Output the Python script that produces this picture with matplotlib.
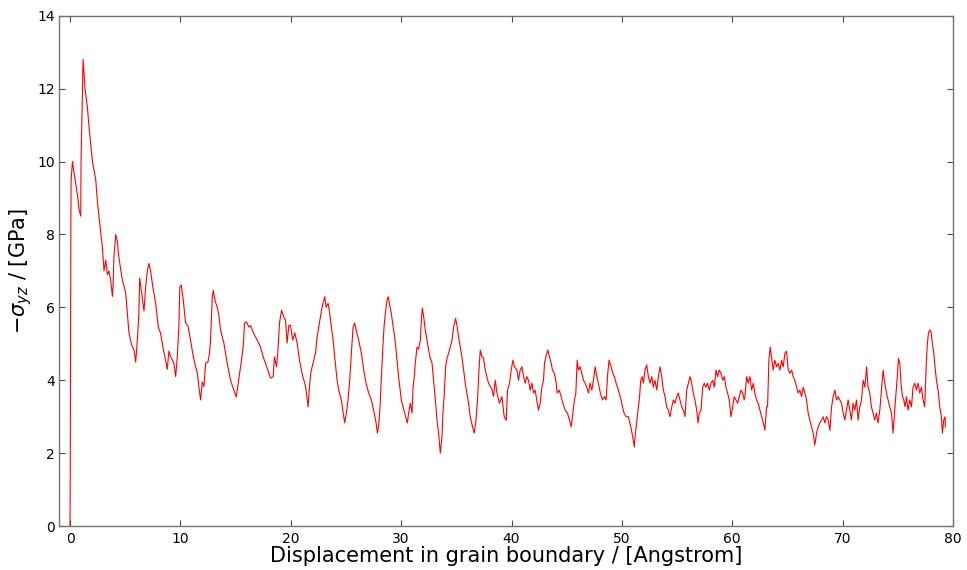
import matplotlib
matplotlib.use("Agg")
import matplotlib.pyplot as plt
import numpy as np

# displacement [Angstrom] and -sigma_yz [GPa]
disp = [
    0.0, 0.02, 0.04, 0.06, 0.08, 0.1, 0.22, 0.36, 0.52, 0.67, 0.81, 0.97, 1.0, 1.1, 1.18,
    1.36, 1.57, 1.72, 2.03, 2.33, 2.48, 2.62, 2.93, 3.08, 3.23, 3.38, 3.53, 3.68, 3.84,
    3.9, 3.98, 4.14, 4.29, 4.41, 4.74, 5.04, 5.19, 5.34, 5.58, 5.79, 5.95, 6.1, 6.24,
    6.31, 6.49, 6.7, 6.85, 7.0, 7.15, 7.3, 7.46, 7.76, 8.0, 8.2, 8.42, 8.66, 8.81, 8.96,
    9.11, 9.41, 9.57, 9.72, 9.86, 9.95, 10.08, 10.26, 10.47, 10.68, 10.92, 11.17, 11.38,
    11.53, 11.67, 11.83, 11.98, 12.13, 12.28, 12.49, 12.64, 12.73, 12.89, 12.98, 13.12,
    13.34, 13.48, 13.64, 13.94, 14.24, 14.54, 14.84, 15.06, 15.24, 15.45, 15.69, 15.81,
    15.99, 16.2, 16.35, 16.65, 16.96, 17.26, 17.5, 17.71, 17.92, 18.16, 18.41, 18.52,
    18.71, 18.82, 18.98, 19.16, 19.37,
    19.52, 19.67, 19.82, 19.97, 20.18, 20.36, 20.58, 20.79, 20.97, 21.09, 21.27, 21.39,
    21.57, 21.69, 21.81, 21.94, 22.08, 22.24, 22.39, 22.53, 22.69, 22.84, 22.99, 23.08,
    23.2, 23.38, 23.53, 23.68, 23.84, 23.98, 24.2, 24.34, 24.59, 24.71, 24.89, 25.04,
    25.19, 25.34, 25.49, 25.65, 25.79, 25.95, 26.15, 26.4, 26.61, 26.82, 27.06, 27.3,
    27.51, 27.73, 27.85, 27.96, 28.09, 28.21, 28.33, 28.45, 28.57, 28.72, 28.84, 29.0,
    29.11, 29.23, 29.41, 29.57, 29.77, 30.02, 30.23,
    30.56, 30.68, 30.83, 30.99, 31.08, 31.19, 31.28, 31.44, 31.58, 31.74, 31.83, 31.92,
    32.04, 32.19, 32.34, 32.49, 32.64, 32.8, 32.94, 33.1, 33.25, 33.39, 33.55, 33.7,
    33.79, 33.91, 34.03, 34.15, 34.3, 34.45, 34.61, 34.75, 34.93, 35.06, 35.2, 35.36,
    35.51, 35.66, 35.81, 35.96, 36.11, 36.26, 36.47, 36.62, 36.78, 36.92, 37.05, 37.17,
    37.32, 37.47, 37.62, 37.77, 37.92, 38.07, 38.23, 38.37, 38.53, 38.68, 38.91, 39.13,
    39.34, 39.52, 39.64, 39.82, 39.97, 40.13, 40.27,
    40.49, 40.63, 40.79, 40.94, 41.09, 41.24, 41.39, 41.54, 41.69, 41.85, 41.99, 42.14,
    42.29, 42.44, 42.6, 42.75, 42.9, 42.99, 43.11, 43.29, 43.44, 43.59, 43.71, 43.89,
    44.05, 44.14, 44.32, 44.5, 44.65, 44.86, 45.07, 45.25, 45.41, 45.56, 45.7, 45.83,
    45.95, 46.06, 46.22, 46.37, 46.52, 46.67, 46.82, 46.97, 47.12, 47.28, 47.42, 47.58,
    47.73, 47.87, 48.05, 48.24, 48.42, 48.57, 48.72, 48.84, 49.02, 49.18, 49.32, 49.48,
    49.68, 49.93, 50.05, 50.2, 50.38, 50.59, 50.81, 50.99, 51.13,
    51.19, 51.4, 51.49, 51.58, 51.71, 51.83, 51.95, 52.1, 52.25, 52.4, 52.55, 52.71,
    52.85, 53.0, 53.16, 53.31, 53.46, 53.61, 53.76, 53.91, 54.06, 54.21, 54.36, 54.52,
    54.66, 54.81, 54.97, 55.11, 55.27, 55.42, 55.57, 55.72, 55.87, 56.02, 56.17, 56.32,
    56.47, 56.62, 56.78, 56.9, 57.01, 57.17, 57.32, 57.47, 57.62, 57.77, 57.92, 58.07,
    58.23, 58.37, 58.53, 58.68, 58.82, 58.98, 59.13, 59.28, 59.43, 59.58, 59.73, 59.88,
    60.04, 60.18, 60.34, 60.49, 60.63, 60.79, 60.94, 61.08,
    61.15, 61.3, 61.45, 61.6, 61.76, 61.9, 62.05, 62.2, 62.35, 62.51, 62.66, 62.81,
    62.96, 63.11, 63.2, 63.32, 63.44, 63.56, 63.71, 63.86, 64.02, 64.16, 64.32, 64.47,
    64.62, 64.77, 64.92, 65.07, 65.22, 65.38, 65.52, 65.67, 65.83, 65.97, 66.13, 66.28,
    66.43, 66.58, 66.73, 66.88, 67.03, 67.18, 67.33, 67.48, 67.64, 67.78, 67.94, 68.09,
    68.24, 68.39, 68.54, 68.69, 68.85, 69.0, 69.14, 69.3, 69.45, 69.59, 69.75, 69.9,
    70.05, 70.2, 70.35, 70.5, 70.65, 70.8, 70.95, 71.1, 71.26, 71.4, 71.56,
    71.71, 71.86, 72.02, 72.17, 72.31, 72.46, 72.61, 72.76, 72.91, 73.06, 73.21, 73.37,
    73.52, 73.67, 73.82, 73.97, 74.12, 74.27, 74.43, 74.57, 74.7, 74.82, 74.93, 75.06,
    75.18, 75.29, 75.42, 75.54, 75.66, 75.78, 75.93, 76.08, 76.24, 76.38, 76.54, 76.69,
    76.83, 76.99, 77.14, 77.29, 77.44, 77.59, 77.68, 77.77, 77.89, 78.01, 78.14, 78.26,
    78.37, 78.5, 78.65, 78.8, 78.95, 79.04, 79.16, 79.28, 79.31,
]
stress = [
    0.0, 1.5, 4.0, 7.0, 8.6, 9.5, 10.0, 9.7, 9.4, 9.1, 8.7, 8.5, 10.1, 11.5, 12.8,
    12.0, 11.5, 10.95, 10.0, 9.5, 8.9, 8.5, 7.65, 7.0, 7.3, 6.9, 7.0, 6.75, 6.3,
    6.6, 7.4, 8.0, 7.8, 7.4, 6.75, 6.4, 5.85, 5.3, 4.97, 4.83, 4.5, 5.1, 5.85,
    6.8, 6.4, 5.9, 6.55, 7.0, 7.2, 7.0, 6.65, 6.1, 5.45, 5.3, 4.9, 4.55, 4.3, 4.8,
    4.65, 4.47, 4.1, 4.64, 5.46, 6.56, 6.61, 6.2, 5.57, 5.5, 5.1, 4.64, 4.37,
    4.2, 3.83, 3.46, 3.95, 3.83, 4.47, 4.5, 4.74, 5.1, 6.29, 6.47, 6.2,
    6.0, 5.8, 5.38, 5.02, 4.47, 4.0, 3.73, 3.54, 3.92, 4.37, 4.91, 5.57,
    5.6, 5.46, 5.5, 5.28, 5.1, 4.91, 4.64, 4.47, 4.28, 4.06, 4.1, 4.64,
    4.37, 4.74, 5.57, 5.92, 5.74,
    5.65, 5.02, 5.5, 5.51, 5.1, 5.3, 5.02, 4.55, 4.28, 4.09, 3.92, 3.73,
    3.27, 3.81, 4.2, 4.37, 4.55, 4.74, 5.19, 5.46, 5.74, 6.01, 6.2, 6.29,
    6.0, 6.11, 5.84, 5.46, 5.1, 4.64, 4.0, 3.73, 3.46, 3.18, 2.83, 3.1,
    3.46, 4.0, 4.74, 5.46, 5.57, 5.35, 5.1, 4.74, 4.28, 3.92, 3.65, 3.46,
    3.18, 2.83, 2.55, 2.74, 3.27, 4.09, 4.83, 5.46, 5.84, 6.2, 6.29, 6.0,
    5.84, 5.57, 5.19, 4.74, 4.09, 3.46, 3.2,
    2.83, 3.1, 3.37, 3.1, 3.81, 4.09, 4.47, 4.91, 4.85, 5.1, 5.65, 5.98,
    5.74, 5.38, 5.1, 4.83, 4.6, 4.47, 4.0, 3.46, 2.91, 2.55, 2.0, 2.44,
    3.1, 3.65, 4.37, 4.6, 4.74, 4.91, 5.1, 5.46, 5.7, 5.5, 5.19, 4.91,
    4.64, 4.28, 3.92, 3.65, 3.37, 3.0, 2.72, 2.55, 2.9, 3.46, 4.28, 4.83,
    4.65, 4.6, 4.28, 4.09, 3.92, 3.83, 3.75, 3.56, 4.0, 3.65, 3.37, 3.55,
    3.0, 2.9, 3.73, 3.92, 4.28, 4.55, 4.37,
    4.28, 4.0, 4.28, 4.37, 4.1, 3.92, 4.1, 4.0, 3.73, 3.92, 3.65, 3.73,
    3.46, 3.18, 3.37, 3.81, 4.0, 4.47, 4.64, 4.83, 4.64, 4.47, 4.28, 4.19,
    3.92, 3.65, 3.73, 3.55, 3.37, 3.18, 3.1, 2.91, 2.72, 3.1, 3.46, 3.65,
    4.55, 4.28, 4.37, 4.19, 4.0, 3.92, 3.81, 3.65, 3.92, 3.73, 4.0, 4.37,
    4.1, 3.92, 3.65, 3.46, 3.55, 3.46, 4.19, 4.55, 4.37, 4.19, 4.1, 3.92,
    3.73, 3.46, 3.27, 3.1, 3.0, 3.0, 2.72, 2.44, 2.17,
    2.44, 3.0, 3.27, 3.46, 4.0, 4.1, 3.92, 4.28, 4.42, 4.1, 3.92, 4.1,
    3.81, 4.0, 3.73, 4.1, 4.37, 4.1, 3.73, 3.55, 3.27, 3.18, 3.0, 3.27,
    3.46, 3.37, 3.55, 3.65, 3.46, 3.27, 3.18, 3.0, 3.73, 3.92, 4.1, 3.92,
    3.65, 3.46, 3.18, 2.83, 3.1, 3.18, 3.81, 3.92, 3.81, 3.92, 3.73, 3.92,
    4.0, 3.81, 4.28, 4.1, 4.28, 4.19, 4.0, 4.1, 3.81, 3.65, 3.46, 3.0,
    3.27, 3.55, 3.46, 3.37, 3.55, 3.73, 3.65, 3.46,
    3.55, 4.1, 3.92, 4.1, 3.73, 3.92, 3.65, 3.46, 3.37, 3.18, 3.0, 2.83,
    2.63, 3.27, 3.27, 4.55, 4.91, 4.64, 4.28, 4.55, 4.37, 4.46, 4.28, 4.55,
    4.37, 4.74, 4.8, 4.28, 4.19, 4.28, 4.1, 4.0, 3.81, 3.65, 3.73, 3.55,
    3.81, 3.65, 3.46, 3.1, 2.91, 2.72, 2.55, 2.22, 2.55, 2.72, 2.83, 2.91,
    3.0, 2.83, 3.0, 2.91, 2.63, 3.27, 3.55, 3.73, 3.46, 3.55, 3.46, 3.37,
    3.1, 2.91, 3.18, 3.46, 3.18, 2.91, 3.37, 3.18, 3.46, 2.91, 3.27,
    3.46, 4.0, 3.81, 4.37, 3.81, 3.65, 3.27, 3.1, 2.91, 3.1, 2.83, 3.18,
    3.73, 4.28, 3.92, 3.65, 3.46, 3.27, 3.1, 2.55, 3.1, 3.55, 4.0, 4.6,
    4.46, 3.92, 3.55, 3.46, 3.27, 3.55, 3.18, 3.46, 3.27, 3.81, 3.92, 3.73,
    3.92, 3.65, 3.81, 3.46, 3.27, 4.55, 5.0, 5.28, 5.38, 5.33, 5.0, 4.74,
    4.37, 4.0, 3.73, 3.27, 3.0, 2.55, 2.91, 3.0, 2.72,
]

xticks = [0, 10, 20, 30, 40, 50, 60, 70, 80]
yticks = [0, 2, 4, 6, 8, 10, 12, 14]

fig = plt.figure(figsize=(9.67, 5.70), dpi=100)
ax = fig.add_axes([0.061, 0.077, 0.9245, 0.8955])

ax.plot(disp, stress, color="red", lw=0.8)

ax.set_xlim(-1, 80)
ax.set_ylim(0, 14)
ax.set_xticks(xticks)
ax.set_yticks(yticks)
ax.tick_params(direction="in", top=True, right=True, length=4, width=0.8,
               labelsize=10, color="0.3")
ax.tick_params(axis="x", pad=4)
ax.tick_params(axis="y", pad=3)
for s in ax.spines.values():
    s.set_color("0.45")
    s.set_linewidth(1.0)

ax.set_xlabel("Displacement in grain boundary / [Angstrom]", fontsize=15, labelpad=0)
ax.set_ylabel(r"$-\sigma_{yz}$ / [GPa]", fontsize=15, labelpad=2)

fig.savefig("out.png", dpi=100)
